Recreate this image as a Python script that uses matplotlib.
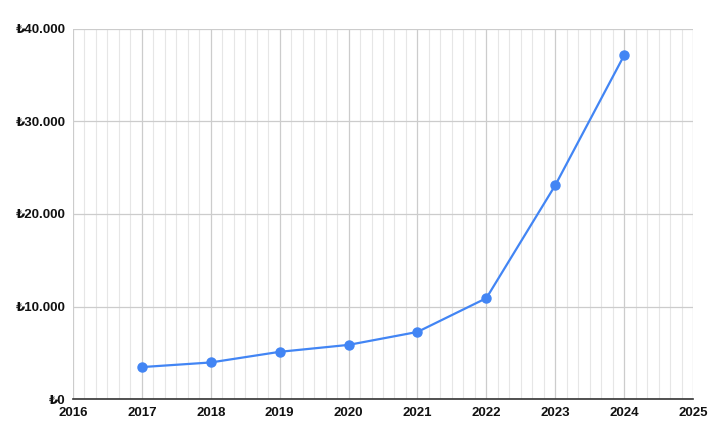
import matplotlib
matplotlib.use('Agg')
import matplotlib.pyplot as plt
from matplotlib.ticker import FuncFormatter, FixedLocator

years = [2017, 2018, 2019, 2020, 2021, 2022, 2023, 2024]
values = [3450, 3950, 5100, 5850, 7250, 10900, 23100, 37150]
x_ticks = list(range(2016, 2026))
y_ticks = [0, 10000, 20000, 30000, 40000]

plt.rcParams['font.family'] = ['Liberation Sans', 'DejaVu Sans']

fig = plt.figure(figsize=(7.16, 4.42), dpi=100)
ax = fig.add_axes([73 / 716, 43 / 442, 620 / 716, 370 / 442])

ax.plot(years, values, color='#4285F4', linewidth=1.6, marker='o',
        markersize=6.5, zorder=3, clip_on=False)

ax.set_xlim(2016, 2025)
ax.set_ylim(0, 40000)
ax.set_xticks(x_ticks)
# two-month minor gridlines between the years
minor = [y + k / 6 for y in x_ticks[:-1] for k in range(1, 6)]
ax.xaxis.set_minor_locator(FixedLocator(minor))
ax.set_yticks(y_ticks)


def lira(v, pos):
    return '₺' + f'{int(v):,}'.replace(',', '.')


ax.yaxis.set_major_formatter(FuncFormatter(lira))

ax.grid(which='major', color='#cccccc', linewidth=0.9, zorder=0)
ax.grid(which='minor', axis='x', color='#e6e6e6', linewidth=0.8, zorder=0)
ax.set_axisbelow(True)

for side in ['top', 'right', 'left']:
    ax.spines[side].set_visible(False)
ax.spines['bottom'].set_color('#333333')
ax.spines['bottom'].set_linewidth(1.2)

ax.tick_params(which='both', length=0)
ax.tick_params(axis='x', pad=6, labelsize=9.5, labelcolor='#111111')
ax.tick_params(axis='y', pad=5, labelsize=9.5, labelcolor='#111111')
for lab in ax.get_xticklabels() + ax.get_yticklabels():
    lab.set_fontweight('bold')

fig.savefig('out.png', dpi=100)
